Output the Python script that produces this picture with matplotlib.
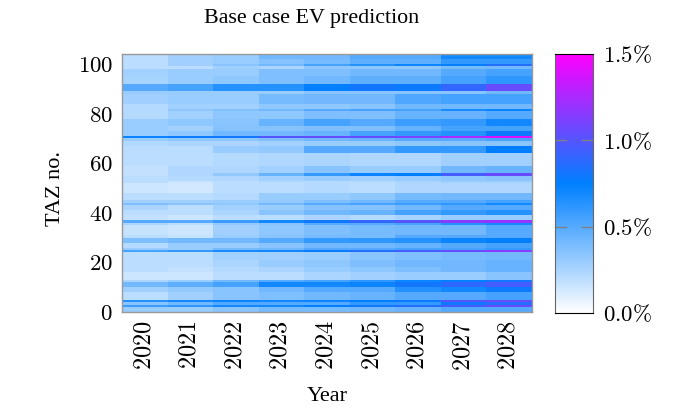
import matplotlib
matplotlib.use("Agg")
import matplotlib.pyplot as plt
import numpy as np
from matplotlib.colors import LinearSegmentedColormap

years = [2020, 2021, 2022, 2023, 2024, 2025, 2026, 2027, 2028]

band_rows = [2, 2, 1, 1, 3, 3, 3, 1, 4, 2, 1, 3, 3, 2, 2, 1, 1, 2, 3, 5, 3, 1, 2,
             1, 4, 3, 1, 1, 2, 2, 2, 1, 1, 4, 1, 2, 2, 1, 1, 3, 3, 2, 3, 1, 2, 2, 3, 1, 1, 1, 2]

ev_2020 = [.2, .2, .2, .2, .27, .26, .5, .3, .28, .22, .22, .22, .3, .3, .3, .72, .3, .23, .21, .2, .18, .18, .2,
           .2, .15, .2, .28, .38, .25, .2, .18, .5, .25, .17, .2, .38, .22, .3, .55, .2, .2, .2, .15, .25, .42, .28, .2, .65, .35, .58, .3]
ev_2021 = [.28, .28, .28, .2, .3, .3, .55, .3, .3, .27, .33, .27, .33, .27, .33, .78, .33, .25, .21, .2, .24, .24, .22,
           .16, .14, .2, .28, .35, .2, .2, .15, .5, .2, .15, .17, .42, .3, .3, .6, .2, .2, .18, .15, .3, .48, .32, .28, .7, .42, .62, .3]
ev_2022 = [.3, .3, .35, .28, .3, .33, .65, .3, .3, .27, .37, .33, .35, .36, .42, .8, .33, .25, .3, .22, .24, .32, .24,
           .2, .2, .22, .3, .33, .27, .25, .2, .58, .32, .28, .3, .42, .3, .4, .68, .27, .25, .22, .2, .42, .55, .35, .35, .72, .5, .7, .35]
ev_2023 = [.42, .36, .42, .25, .38, .38, .65, .3, .4, .33, .42, .33, .45, .36, .42, 1.0, .38, .27, .32, .24, .27, .45, .27,
           .22, .2, .3, .32, .42, .3, .35, .2, .7, .35, .33, .35, .5, .35, .42, .7, .28, .3, .25, .2, .5, .7, .42, .38, .7, .5, .7, .4]
ev_2024 = [.42, .4, .55, .33, .38, .42, .75, .35, .42, .33, .5, .38, .55, .38, .45, 1.05, .42, .3, .5, .25, .35, .6, .3,
           .22, .22, .3, .38, .5, .36, .42, .25, .8, .5, .38, .4, .6, .42, .5, .78, .3, .33, .3, .25, .55, .7, .5, .42, .72, .5, .75, .4]
ev_2025 = [.5, .47, .65, .33, .42, .47, .8, .35, .42, .35, .55, .38, .5, .38, .55, 1.05, .45, .3, .5, .24, .3, .72, .28,
           .22, .2, .33, .42, .55, .36, .45, .22, .9, .5, .4, .4, .62, .42, .5, .85, .35, .38, .33, .27, .62, .72, .5, .45, .75, .6, .8, .42]
ev_2026 = [.5, .47, .72, .33, .42, .47, .78, .35, .52, .42, .55, .45, .58, .46, .6, 1.1, .5, .33, .6, .24, .3, .75, .3,
           .25, .24, .4, .5, .58, .42, .55, .26, 1.0, .55, .42, .5, .65, .45, .55, .95, .38, .42, .38, .3, .72, .8, .65, .5, .78, .6, .85, .45]
ev_2027 = [.7, .6, .75, .4, .5, .55, .9, .35, .55, .42, .68, .45, .6, .55, .65, 1.25, .5, .35, .6, .28, .42, .95, .33,
           .28, .24, .42, .5, .62, .5, .6, .3, 1.15, .65, .42, .5, .72, .5, .55, 1.05, .4, .42, .42, .3, .75, .88, .7, .5, 1.0, .8, .95, .5]
ev_2028 = [.7, .6, .85, .42, .55, .62, 1.05, .42, .55, .42, .72, .5, .7, .55, .78, 1.4, .55, .35, .75, .28, .45, 1.05, .35,
           .28, .24, .42, .55, .7, .5, .65, .3, 1.2, .7, .5, .5, .75, .55, .6, 1.15, .42, .45, .45, .35, .8, .95, .78, .55, 1.05, .85, 1.05, .5]

series = [ev_2020, ev_2021, ev_2022, ev_2023, ev_2024, ev_2025, ev_2026, ev_2027, ev_2028]
y_ticks = [0, 20, 40, 60, 80, 100]
cbar_ticks = [0.0, 0.5, 1.0, 1.5]

plt.rcParams['font.family'] = ['Liberation Serif', 'DejaVu Serif']
plt.rcParams['mathtext.fontset'] = 'cm'

cmap = LinearSegmentedColormap.from_list("ev", ["#ffffff", "#0080ff", "#ff00ff"])

fig = plt.figure(figsize=(6.97, 4.13), dpi=100)
ax = fig.add_axes([122 / 697, 1 - 312 / 413, 410 / 697, 258 / 413])
cax = fig.add_axes([555 / 697, 1 - 313 / 413, 38 / 697, 259 / 413])

# flip so the first band sits on top
rows = np.array(band_rows[::-1])
y_edges = np.concatenate([[0], np.cumsum(rows)])
x_edges = np.arange(len(years) + 1) - 0.5
values = np.array(series).T[::-1]

mesh = ax.pcolormesh(x_edges, y_edges, values, cmap=cmap, vmin=0, vmax=1.5, shading="flat")

ax.set_xticks(range(len(years)))
ax.set_xticklabels(["$%d$" % y for y in years], rotation=90, fontsize=17.5)
ax.set_yticks(y_ticks)
ax.set_yticklabels(["$%d$" % v for v in y_ticks], fontsize=16.5)
ax.tick_params(axis="x", length=0, pad=6)
ax.tick_params(axis="y", length=0, pad=6.5)
for s in ax.spines.values():
    s.set_color("#999999")
    s.set_linewidth(1)

ax.set_xlabel("Year", fontsize=16, labelpad=12)
ax.set_ylabel("TAZ no.", fontsize=16, labelpad=9, y=0.48)
# the title is not centred on the axes in the original
ax.set_title("Base case EV prediction", fontsize=15.8, pad=22, x=0.463)

gradient = np.linspace(0, 1.5, 256).reshape(-1, 1)
cax.imshow(gradient, aspect="auto", origin="lower", cmap=cmap, vmin=0, vmax=1.5, extent=[0, 1, 0, 1.5])
cax.set_xticks([])
cax.yaxis.tick_right()
cax.set_yticks(cbar_ticks)
cax.set_yticklabels([r"$%.1f\%%$" % t for t in cbar_ticks], fontsize=16.5)
cax.tick_params(length=0, pad=7)
for t in cbar_ticks[1:3]:
    cax.plot([0, 0.3], [t, t], color="#808080", lw=1)
    cax.plot([0.7, 1], [t, t], color="#808080", lw=1)
cax.set_xlim(0, 1)
cax.set_ylim(0, 1.5)
cax.spines["left"].set_color("#666666")
cax.spines["right"].set_color("#666666")

fig.savefig("out.png", dpi=100)
